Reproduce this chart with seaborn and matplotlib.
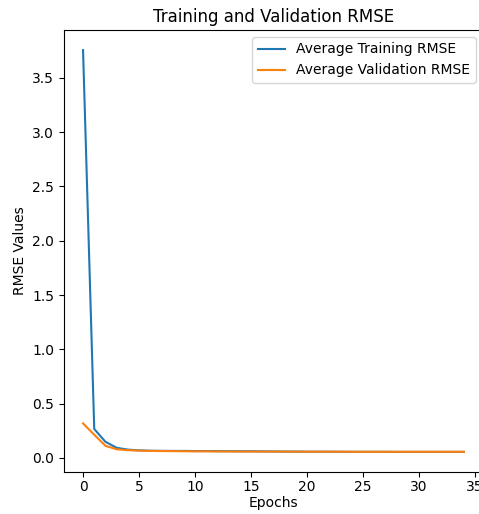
import pandas as pd
import matplotlib.pyplot as plt
import seaborn as sns

epochs = list(range(35))
train_rmse = [3.757, 0.265, 0.147, 0.092, 0.075, 0.068, 0.065, 0.064, 0.063, 0.063,
              0.062, 0.062, 0.061, 0.061, 0.060, 0.060, 0.059, 0.058, 0.057, 0.057,
              0.056, 0.056, 0.056, 0.055, 0.055, 0.055, 0.055, 0.055, 0.054, 0.054,
              0.054, 0.054, 0.054, 0.054, 0.054]
val_rmse = [0.317, 0.212, 0.110, 0.078, 0.070, 0.066, 0.063, 0.062, 0.061, 0.060,
            0.059, 0.059, 0.058, 0.058, 0.057, 0.057, 0.057, 0.057, 0.057, 0.056,
            0.056, 0.056, 0.056, 0.056, 0.055, 0.055, 0.055, 0.055, 0.055, 0.055,
            0.055, 0.055, 0.055, 0.055, 0.055]

df = pd.DataFrame({
    'Epochs': epochs * 2,
    'RMSE': train_rmse + val_rmse,
    'Series': ['Average Training RMSE'] * len(epochs) + ['Average Validation RMSE'] * len(epochs),
})

fig = plt.figure(figsize=(4.79, 5.14), dpi=100)
# axes run past the right edge, as in the cropped original
ax = fig.add_axes([64 / 479, 1 - 472 / 514, 419 / 479, 442 / 514])
sns.lineplot(data=df, x='Epochs', y='RMSE', hue='Series', ax=ax,
             palette=['#1f77b4', '#ff7f0e'], linewidth=1.5)
ax.set_title('Training and Validation RMSE')
ax.set_xlabel('Epochs', labelpad=1)
ax.set_ylabel('RMSE Values')
ax.tick_params(axis='x', pad=2.5)
ax.legend(loc='upper right', title=None)
fig.savefig('out.png', dpi=100)
